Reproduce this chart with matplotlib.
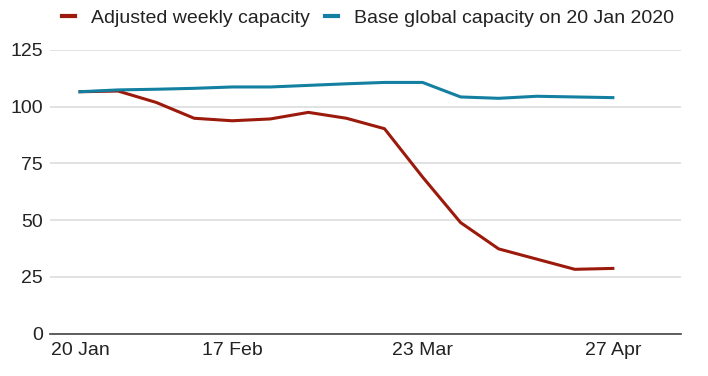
import numpy as np
import matplotlib
matplotlib.use("Agg")
import matplotlib.pyplot as plt

# ── Data ──────────────────────────────────────────────────────────────────────

weeks = ["20 Jan", "27 Jan", "3 Feb", "10 Feb", "17 Feb", "24 Feb", "2 Mar",
         "9 Mar", "16 Mar", "23 Mar", "30 Mar", "6 Apr", "13 Apr", "20 Apr", "27 Apr"]
adjusted = [106.6, 106.9, 101.9, 94.9, 93.8, 94.6, 97.5, 94.9, 90.3, 69.0,
            48.9, 37.3, 32.8, 28.3, 28.7]
base = [106.6, 107.4, 107.7, 108.1, 108.7, 108.7, 109.4, 110.1, 110.7, 110.7,
        104.3, 103.7, 104.6, 104.3, 104.0]
tick_labels = ["20 Jan", "17 Feb", "23 Mar", "27 Apr"]
yticks = [0, 25, 50, 75, 100, 125]

RED = "#9b1a0c"
BLUE = "#1380a1"
TEXT = "#222222"

plt.rcParams["font.family"] = ["Liberation Sans", "DejaVu Sans"]

fig = plt.figure(figsize=(7.08, 3.76), dpi=100)
W, H = 708, 376
ax = fig.add_axes([50 / W, 42.5 / H, 631 / W, 283.5 / H])

x = np.arange(len(weeks))
ax.plot(x, adjusted, color=RED, lw=2.2, label="Adjusted weekly capacity",
        solid_joinstyle="round", zorder=3)
ax.plot(x, base, color=BLUE, lw=2.2, label="Base global capacity on 20 Jan 2020",
        solid_joinstyle="round", zorder=3)

ax.set_xlim(-0.788, 15.79)
ax.set_ylim(0, 125)

ax.set_yticks(yticks)
ax.set_xticks([weeks.index(t) for t in tick_labels])
ax.set_xticklabels(tick_labels)
ax.tick_params(axis="both", length=0, labelsize=14, labelcolor=TEXT)
ax.tick_params(axis="y", pad=5)
ax.tick_params(axis="x", pad=6)

ax.yaxis.grid(True, color="#dddddd", lw=1.2, zorder=0)
ax.set_axisbelow(True)
for s in ["top", "right", "left"]:
    ax.spines[s].set_visible(False)
ax.spines["bottom"].set_color("#444444")
ax.spines["bottom"].set_linewidth(1.2)
ax.spines["bottom"].set_zorder(4)

leg = fig.legend(loc="center left", bbox_to_anchor=(62 / W, 1 - 18 / H), ncol=2,
                 frameon=False, handlelength=0.67, handletextpad=0.8,
                 columnspacing=0.82, borderpad=0, borderaxespad=0, fontsize=14)
for t in leg.get_texts():
    t.set_color(TEXT)
for h in leg.get_lines():
    h.set_linewidth(3)

fig.savefig("out.png", dpi=100)
